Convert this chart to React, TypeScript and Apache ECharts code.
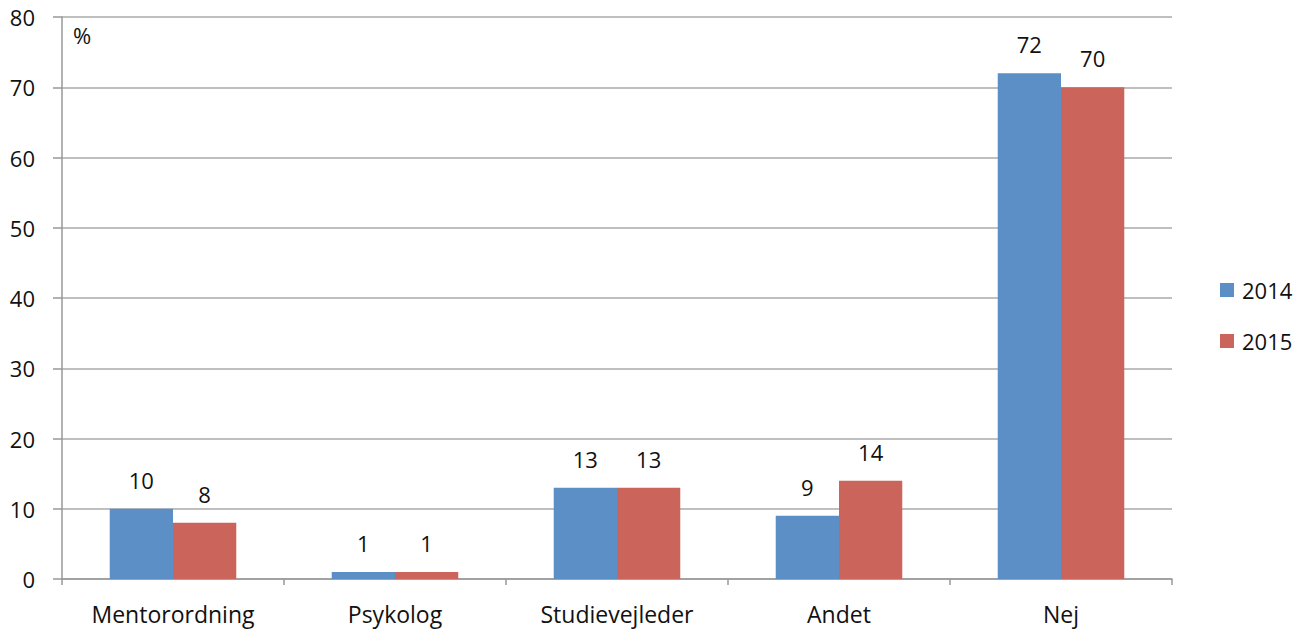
import React, { useEffect, useRef } from "react";
import * as echarts from "echarts";

const categories = ["Mentorordning", "Psykolog", "Studievejleder", "Andet", "Nej"];
const values2014 = [10, 1, 13, 9, 72];
const values2015 = [8, 1, 13, 14, 70];
const seriesNames = ["2014", "2015"];
const yTicks = { min: 0, max: 80, interval: 10 };

export default function App() {
  const ref = useRef<HTMLDivElement>(null);
  useEffect(() => {
    const chart = echarts.init(ref.current!, null, { renderer: "svg" });
    const font = "'Open Sans', Lato, sans-serif";
    const fs = 22;
    const labelStyle = {
      show: true,
      position: "top" as const,
      distance: 18,
      fontSize: fs,
      color: "#111",
      fontFamily: font,
    };
    chart.setOption({
      animation: false,
      backgroundColor: "#fff",
      grid: { left: 62, top: 17, width: 1110, height: 562, containLabel: false },
      legend: {
        orient: "vertical",
        left: 1220,
        top: 279,
        padding: 0,
        itemWidth: 14,
        itemHeight: 14,
        itemGap: 29,
        icon: "rect",
        textStyle: { fontSize: fs, color: "#111", fontFamily: font, padding: [0, 0, 0, 3] },
        data: seriesNames,
      },
      graphic: [
        {
          type: "text",
          left: 73,
          top: 24,
          style: { text: "%", fontSize: fs, fill: "#111", fontFamily: font },
        },
      ],
      xAxis: {
        type: "category",
        data: categories,
        axisLine: { lineStyle: { color: "#999", width: 1.5 } },
        axisTick: { show: true, length: 6, lineStyle: { color: "#999", width: 1.5 } },
        axisLabel: { fontSize: 23, color: "#111", fontFamily: font, margin: 23 },
      },
      yAxis: {
        type: "value",
        min: yTicks.min,
        max: yTicks.max,
        interval: yTicks.interval,
        axisLine: { show: true, lineStyle: { color: "#999", width: 1.5 } },
        axisTick: { show: true, length: 9, lineStyle: { color: "#999", width: 1.5 } },
        splitLine: { show: true, lineStyle: { color: "#aaa", width: 1.5 } },
        axisLabel: { fontSize: fs, color: "#111", fontFamily: font, margin: 27 },
      },
      series: [
        {
          name: seriesNames[0],
          type: "bar",
          data: values2014,
          itemStyle: { color: "#5b8fc5" },
          barGap: "0%",
          barCategoryGap: "43%",
          label: labelStyle,
        },
        {
          name: seriesNames[1],
          type: "bar",
          data: values2015,
          itemStyle: { color: "#cb645a" },
          barGap: "0%",
          barCategoryGap: "43%",
          label: labelStyle,
        },
      ],
    });
    return () => chart.dispose();
  }, []);
  return (
    <div
      ref={ref}
      style={{ position: "fixed", left: 0, top: 0, width: 1306, height: 631 }}
    />
  );
}
